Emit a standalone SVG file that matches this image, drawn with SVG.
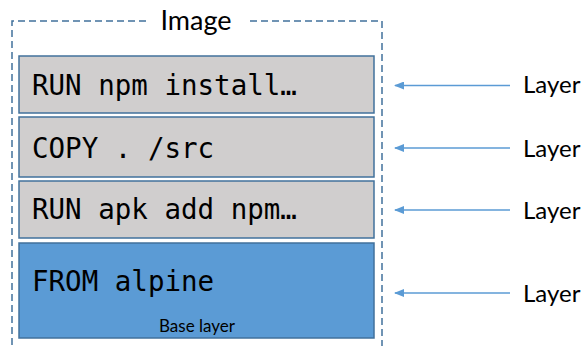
<svg xmlns="http://www.w3.org/2000/svg" width="582" height="346" viewBox="0 0 582 346">
<defs>
<style>
.frame{fill:none;stroke:#41719C;stroke-width:1.5;stroke-dasharray:7 4}
.box{stroke:#41719C;stroke-width:1.5}
.gray{fill:#D0CECE}
.blue{fill:#5B9BD5}
.code{font-family:"DejaVu Sans Mono","Liberation Mono",monospace;font-size:27.5px;fill:#000}
.lbl{font-family:Lato,"Liberation Sans",sans-serif;fill:#000}
.arrow{stroke:#5B9BD5;stroke-width:1.5;fill:none;marker-end:url(#ah)}
</style>
<marker id="ah" viewBox="0 0 10 8" refX="9" refY="4" markerWidth="10" markerHeight="8" markerUnits="userSpaceOnUse" orient="auto">
<path d="M0,0 L10,4 L0,8 Z" fill="#5B9BD5"/>
</marker>
</defs>
<g id="image-frame">
<path class="frame" d="M146,21 H12 V346 M250,21 H382 V346"/>
<text class="lbl" x="196" y="30" font-size="27" text-anchor="middle">Image</text>
</g>
<g id="layer-run-npm">
<rect class="box gray" x="19" y="56" width="355" height="57"/>
<text class="code" x="32" y="95">RUN npm install…</text>
</g>
<g id="layer-copy">
<rect class="box gray" x="19" y="117" width="355" height="60"/>
<text class="code" x="32" y="158">COPY . /src</text>
</g>
<g id="layer-apk">
<rect class="box gray" x="19" y="181" width="355" height="57"/>
<text class="code" x="32" y="219">RUN apk add npm…</text>
</g>
<g id="layer-base">
<rect class="box blue" x="19" y="243" width="355" height="95"/>
<text class="code" x="32" y="291">FROM alpine</text>
<text class="lbl" x="197" y="332" font-size="17" text-anchor="middle">Base layer</text>
</g>
<g id="labels">
<text class="lbl" x="523" y="93" font-size="24">Layer</text>
<text class="lbl" x="523" y="157" font-size="24">Layer</text>
<text class="lbl" x="523" y="219" font-size="24">Layer</text>
<text class="lbl" x="523" y="302" font-size="24">Layer</text>
</g>
<g id="connectors">
<line class="arrow" x1="510" y1="85.5" x2="395" y2="85.5"/>
<line class="arrow" x1="510" y1="148" x2="395" y2="148"/>
<line class="arrow" x1="510" y1="210" x2="395" y2="210"/>
<line class="arrow" x1="510" y1="293" x2="395" y2="293"/>
</g>
</svg>
